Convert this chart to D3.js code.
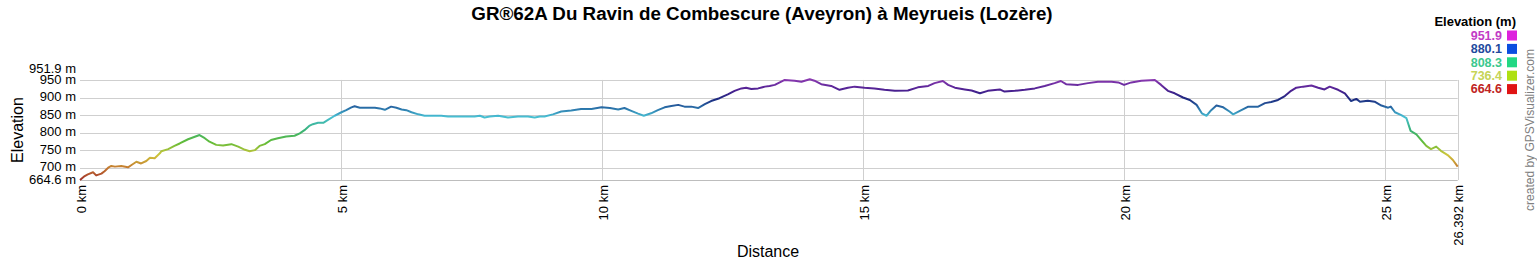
<!DOCTYPE html>
<html>
<head>
<meta charset="utf-8">
<script src="https://cdn.jsdelivr.net/npm/d3@7"></script>
<style>
  body { margin: 0; background: #fff; }
  text { font-family: "Liberation Sans", Arial, sans-serif; }
</style>
</head>
<body>
<script>
var title = "GR®62A Du Ravin de Combescure (Aveyron) à Meyrueis (Lozère)";

// profile: distance (km) / elevation (m)
var distance = [0, 0.09, 0.15, 0.25, 0.31, 0.41, 0.47, 0.54, 0.60, 0.67, 0.79, 0.92, 0.98, 1.08, 1.17, 1.27, 1.34, 1.43, 1.53, 1.56,
  1.69, 1.81, 1.91, 2.07, 2.20, 2.29, 2.39, 2.48, 2.61, 2.74, 2.90, 3.03, 3.16, 3.25, 3.35, 3.44, 3.54, 3.66, 3.79, 3.95,
  4.11, 4.21, 4.30, 4.40, 4.46, 4.56, 4.66, 4.75, 4.88, 5.01, 5.10, 5.20, 5.26, 5.36, 5.65, 5.74, 5.84, 5.96, 6.06, 6.16,
  6.25, 6.35, 6.48, 6.60, 6.92, 7.05, 7.56, 7.66, 7.75, 7.85, 8.01, 8.20, 8.39, 8.58, 8.71, 8.81, 8.90, 9.06, 9.22, 9.41,
  9.60, 9.80, 9.99, 10.15, 10.31, 10.43, 10.56, 10.69, 10.80, 10.94, 11.07, 11.20, 11.33, 11.46, 11.58, 11.71, 11.84, 11.97, 12.09, 12.25,
  12.41, 12.54, 12.67, 12.76, 12.86, 12.99, 13.12, 13.21, 13.31, 13.50, 13.69, 13.82, 13.98, 14.07, 14.20, 14.39, 14.55, 14.71, 14.84, 15.03,
  15.22, 15.41, 15.61, 15.86, 16.05, 16.25, 16.37, 16.53, 16.63, 16.76, 16.95, 17.08, 17.24, 17.39, 17.62, 17.71, 17.91, 18.10, 18.29, 18.48,
  18.67, 18.79, 18.89, 19.12, 19.31, 19.50, 19.76, 19.89, 20.00, 20.14, 20.33, 20.59, 20.71, 20.84, 20.97, 21.13, 21.26, 21.39, 21.49, 21.58,
  21.67, 21.77, 21.90, 22.02, 22.09, 22.22, 22.38, 22.57, 22.70, 22.82, 22.95, 23.08, 23.20, 23.30, 23.43, 23.59, 23.72, 23.84, 23.94, 24.10,
  24.23, 24.35, 24.45, 24.52, 24.67, 24.80, 24.93, 25.06, 25.11, 25.19, 25.31, 25.41, 25.49, 25.60, 25.69, 25.79, 25.88, 25.98, 26.07, 26.20,
  26.30, 26.392];
var elevation = [665, 676, 681, 687, 678, 683, 690, 700, 705, 703, 705, 701, 707, 717, 712, 719, 728, 727, 741, 747,
  753, 762, 769, 781, 788, 793, 784, 774, 765, 763, 767, 760, 751, 747, 750, 762, 767, 779, 784, 789,
  791, 798, 807, 820, 824, 828, 828, 836, 848, 858, 864, 872, 875, 871, 871, 869, 865, 874, 871, 866,
  864, 858, 852, 848, 848, 846, 846, 848, 843, 846, 848, 843, 846, 846, 843, 846, 846, 852, 860, 863,
  867, 867, 872, 870, 866, 870, 862, 854, 848, 855, 864, 872, 876, 879, 874, 874, 870, 881, 890, 898,
  909, 919, 926, 928, 924, 926, 931, 933, 936, 950, 948, 945, 951.9, 948, 938, 933, 922, 928, 931, 928,
  926, 922, 919, 920, 929, 933, 941, 947, 936, 928, 923, 920, 912, 919, 923, 917, 919, 922, 926, 933,
  941, 947, 938, 936, 941, 945, 945, 943, 936, 943, 948, 950, 936, 919, 912, 900, 893, 879, 855, 848,
  864, 877, 872, 860, 852, 862, 874, 874, 884, 887, 893, 904, 919, 928, 931, 934, 928, 923, 931, 922,
  912, 890, 896, 888, 891, 888, 877, 871, 874, 858, 850, 841, 805, 795, 779, 762, 753, 760, 748, 736,
  722, 703];

var xTicks = [0, 5, 10, 15, 20, 25];
var xEnd = 26.392;
var yTicks = [700, 750, 800, 850, 900, 950];
var yMin = 664.6, yMax = 951.9;
var legendValues = [951.9, 880.1, 808.3, 736.4, 664.6];
var legendText = ["#c23cc6", "#1f4a9e", "#3cc88e", "#c6d456", "#c02424"];
var legendSwatch = ["#dd22dd", "#0a4ee0", "#22d884", "#aee012", "#e01414"];

// line colour along elevation
var colorStops = [664.6, 700, 736.4, 772, 808.3, 845, 870, 895, 920, 951.9];
var colorRange = ["#a0302a", "#c47a30", "#cfc63c", "#62bc38", "#38b27a", "#48c0d4", "#2a70a8", "#1c2a80", "#4a2090", "#8a38b0"];

var W = 1537, H = 260;
var svg = d3.select("body").append("svg")
  .attr("width", W)
  .attr("height", H);

var x = d3.scaleLinear().domain([0, xEnd]).range([80, 1457.7]);
var y = d3.scaleLinear().domain([yMin, yMax]).range([180.1, 79.3]);
var color = d3.scaleLinear().domain(colorStops).range(colorRange);

// title
svg.append("text")
  .attr("x", 762).attr("y", 20)
  .attr("text-anchor", "middle")
  .style("font-size", "18.8px").style("font-weight", "bold")
  .text(title);

// grid
svg.selectAll(".hgrid")
  .data(yTicks)
  .enter().append("line")
  .attr("x1", x(0)).attr("x2", x(xEnd))
  .attr("y1", function(d) { return Math.round(y(d)) + 0.5; })
  .attr("y2", function(d) { return Math.round(y(d)) + 0.5; })
  .attr("stroke", "#cfcfcf");

svg.selectAll(".vgrid")
  .data(xTicks.slice(1).concat([xEnd]))
  .enter().append("line")
  .attr("x1", function(d) { return Math.round(x(d)) + 0.5; })
  .attr("x2", function(d) { return Math.round(x(d)) + 0.5; })
  .attr("y1", y(950)).attr("y2", y(yMin))
  .attr("stroke", "#cfcfcf");

svg.append("line")
  .attr("x1", x(0)).attr("x2", x(xEnd))
  .attr("y1", Math.round(y(yMin)) + 0.5).attr("y2", Math.round(y(yMin)) + 0.5)
  .attr("stroke", "#bdbdbd");

// y labels
svg.selectAll(".ylab")
  .data(yTicks.concat([yMin, yMax]))
  .enter().append("text")
  .attr("x", 76)
  .attr("y", function(d) { return d === yMax ? y(d) - 11 : y(d) - 1; })
  .attr("dy", "0.35em")
  .attr("text-anchor", "end")
  .style("font-size", "13px")
  .text(function(d) { return d + " m"; });

// x labels
svg.selectAll(".xlab")
  .data(xTicks.concat([xEnd]))
  .enter().append("text")
  .attr("transform", function(d) { return "translate(" + (x(d) + 1) + ",185) rotate(-90)"; })
  .attr("dy", "0.35em")
  .attr("text-anchor", "end")
  .style("font-size", "13px")
  .text(function(d) { return d + " km"; });

// axis titles
svg.append("text")
  .attr("transform", "translate(17,130) rotate(-90)")
  .attr("dy", "0.35em")
  .attr("text-anchor", "middle")
  .style("font-size", "16px")
  .text("Elevation");

svg.append("text")
  .attr("x", 768).attr("y", 257)
  .attr("text-anchor", "middle")
  .style("font-size", "16px")
  .text("Distance");

// elevation-coloured profile line
var grad = svg.append("defs").append("linearGradient")
  .attr("id", "elevGrad")
  .attr("gradientUnits", "userSpaceOnUse")
  .attr("x1", 0).attr("x2", 0)
  .attr("y1", y(yMin)).attr("y2", y(yMax));

grad.selectAll("stop")
  .data(colorStops)
  .enter().append("stop")
  .attr("offset", function(d) { return (d - yMin) / (yMax - yMin); })
  .attr("stop-color", function(d) { return color(d); });

var pts = distance.map(function(d, i) { return [d, elevation[i]]; });

svg.append("path")
  .datum(pts)
  .attr("fill", "none")
  .attr("stroke", "url(#elevGrad)")
  .attr("stroke-width", 2)
  .attr("stroke-linejoin", "round")
  .attr("d", d3.line()
    .x(function(d) { return x(d[0]); })
    .y(function(d) { return y(d[1]); }));

// legend
svg.append("text")
  .attr("x", 1516).attr("y", 21)
  .attr("dy", "0.35em")
  .attr("text-anchor", "end")
  .style("font-size", "13px").style("font-weight", "bold")
  .text("Elevation (m)");

var leg = svg.selectAll(".leg")
  .data(legendValues)
  .enter().append("g")
  .attr("transform", function(d, i) { return "translate(0," + (35.5 + i * 13.4) + ")"; });

leg.append("text")
  .attr("x", 1502)
  .attr("dy", "0.35em")
  .attr("text-anchor", "end")
  .style("font-size", "12.5px").style("font-weight", "bold")
  .style("fill", function(d, i) { return legendText[i]; })
  .text(function(d) { return d; });

leg.append("rect")
  .attr("x", 1507).attr("y", -5)
  .attr("width", 10).attr("height", 10)
  .style("fill", function(d, i) { return legendSwatch[i]; });

// credit
svg.append("text")
  .attr("transform", "translate(1530,130) rotate(-90)")
  .attr("dy", "0.35em")
  .attr("text-anchor", "middle")
  .style("font-size", "12px")
  .style("fill", "#808080")
  .text("created by GPSVisualizer.com");
</script>
</body>
</html>
